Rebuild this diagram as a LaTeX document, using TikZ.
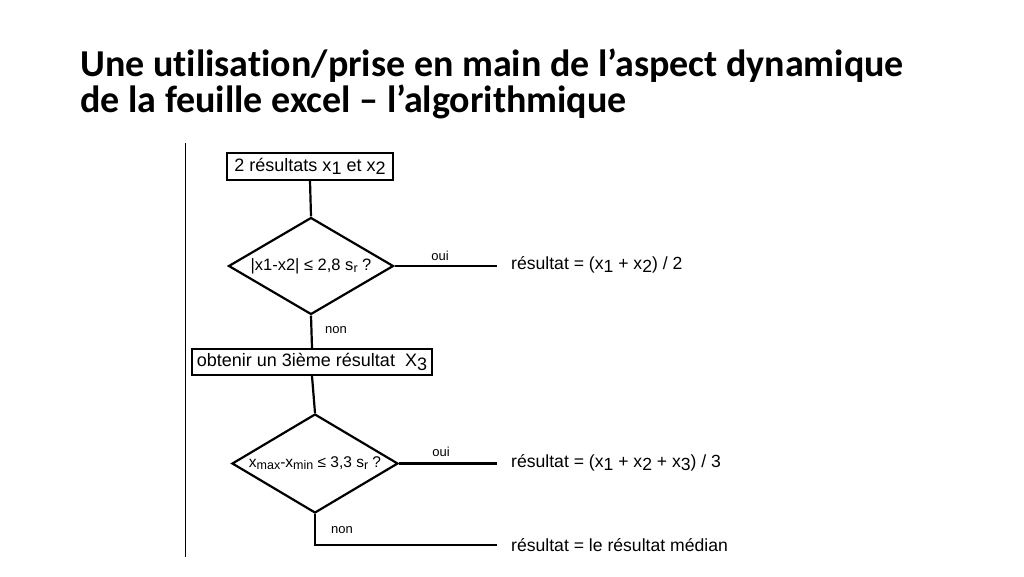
\documentclass[tikz,border=0pt]{standalone}
\usepackage{fontspec}
\setmainfont{Liberation Sans}
\newfontfamily\titlefont[Ligatures=NoCommon]{Carlito}
\usetikzlibrary{shapes.geometric}
\newcommand{\lowsub}[1]{\raisebox{-0.35ex}{#1}}
\newcommand{\smallsub}[1]{\raisebox{-0.3ex}{\fontsize{12.5}{12.5}\selectfont #1}}
\tikzset{
  line/.style={line width=2.2pt},
  box/.style={draw, line width=2.2pt, rectangle, inner sep=0pt, font=\fontsize{18}{21}\selectfont},
  decision/.style={draw, line width=2.2pt, diamond, inner sep=0pt},
  dtext/.style={inner sep=0pt, font=\fontsize{16.5}{18}\selectfont},
  lab/.style={inner sep=0pt, font=\fontsize{13}{15}\selectfont},
  result/.style={anchor=west, inner sep=0pt, font=\fontsize{17.6}{20}\selectfont},
  title/.style={anchor=base west, inner sep=0pt, font=\titlefont\bfseries\fontsize{38}{40}\selectfont}
}
\begin{document}
\begin{tikzpicture}[x=1pt,y=-1pt]
\useasboundingbox (0,0) rectangle (1024,576);
\fill[white] (0,0) rectangle (1024,576);
% title
\node[title] (t1) at (80,76) {Une utilisation/prise en main de l’aspect dynamique};
\node[title] (t2) at (80,112) {de la feuille excel – l’algorithmique};
% left rule
\coordinate (r1) at (185,143);
\coordinate (r2) at (185,557);
\draw[line width=1pt] (r1) -- (r2);
% boxes and decisions
\node[box, minimum width=166pt, minimum height=27pt] (b1) at (310,166.5) {2 résultats x\lowsub{1} et x\lowsub{2}};
\node[decision, minimum width=165pt, minimum height=97pt] (d1) at (311,266) {};
\node[dtext] (d1t) at (311,266) {|x1-x2| ≤ 2,8 s\smallsub{r} ?};
\node[box, minimum width=240pt, minimum height=26pt] (b2) at (312,362) {obtenir un 3ième résultat\ \ X\lowsub{3}};
\node[decision, minimum width=166pt, minimum height=99pt] (d2) at (315,463.5) {};
\node[dtext] (d2t) at (315,463) {\fontsize{15.5}{17}\selectfont x\smallsub{max}-x\smallsub{min} ≤ 3,3 s\smallsub{r} ?};
% ends
\coordinate (e1) at (497,266);
\coordinate (e2) at (497,463.5);
\coordinate (e3) at (497,545);
% connectors
\draw[line] (b1.south) -- (d1.north);
\draw[line] (d1.south) -- (b2.north);
\draw[line] (b2.south) -- (d2.north);
\draw[line] (d1.east) -- (e1);
\draw[line] (d2.east) -- (e2);
\draw[line] (d2.south) |- (e3);
% labels
\node[lab] (o1) at (440,256) {oui};
\node[lab] (n1) at (336,330) {non};
\node[lab] (o2) at (441,452) {oui};
\node[lab] (n2) at (342,530) {non};
% results
\node[result] (res1) at (511,265) {résultat = (x\lowsub{1} + x\lowsub{2}) / 2};
\node[result] (res2) at (511,463) {résultat = (x\lowsub{1} + x\lowsub{2} + x\lowsub{3}) / 3};
\node[result] (res3) at (511,545) {résultat = le résultat médian};
\end{tikzpicture}
\end{document}
